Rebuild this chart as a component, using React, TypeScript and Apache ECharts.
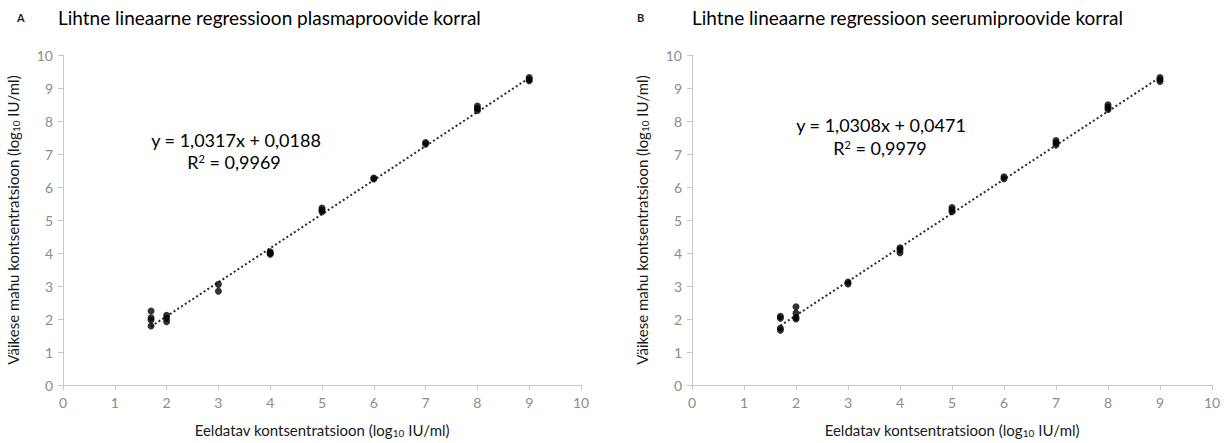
import React, { useEffect, useRef } from "react";
import * as echarts from "echarts";

// Expected concentration (log10 IU/ml) and measured values, plasma samples
const plasmaX = [1.7, 1.7, 1.7, 1.7, 2, 2, 2, 3, 3, 4, 4, 4, 5, 5, 5, 6, 6, 7, 7, 8, 8, 8, 9, 9, 9];
const plasmaY = [2.24, 2.04, 1.97, 1.79, 2.11, 2.02, 1.92, 3.05, 2.84, 4.04, 4.0, 3.96, 5.36, 5.3, 5.25, 6.27, 6.24, 7.35, 7.3, 8.45, 8.38, 8.32, 9.32, 9.26, 9.22];

// Expected concentration and measured values, serum samples
const serumX = [1.7, 1.7, 1.7, 1.7, 2, 2, 2, 2, 3, 3, 4, 4, 4, 5, 5, 5, 6, 6, 7, 7, 7, 8, 8, 8, 9, 9, 9];
const serumY = [2.08, 2.02, 1.72, 1.66, 2.37, 2.18, 2.05, 2.0, 3.12, 3.06, 4.16, 4.1, 4.01, 5.38, 5.31, 5.25, 6.31, 6.25, 7.41, 7.34, 7.27, 8.49, 8.42, 8.35, 9.32, 9.26, 9.2];

// Fitted regression lines
const plasmaFit = { slope: 1.0317, intercept: 0.0188, r2: "0,9969" };
const serumFit = { slope: 1.0308, intercept: 0.0471, r2: "0,9979" };
const fitRange = [1.7, 9];

const titles = [
  "Lihtne lineaarne regressioon plasmaproovide korral",
  "Lihtne lineaarne regressioon seerumiproovide korral",
];
const panelLetters = ["A", "B"];

const FONT = "Lato, 'Open Sans', sans-serif";

const fmt = (v: number) => v.toFixed(4).replace(".", ",");

const pairs = (xs: number[], ys: number[]) => xs.map((x, i) => [x, ys[i]]);
const fitLine = (f: { slope: number; intercept: number }) =>
  fitRange.map((x) => [x, f.slope * x + f.intercept]);

export default function App() {
  const ref = useRef<HTMLDivElement>(null);

  useEffect(() => {
    if (!ref.current) return;
    const chart = echarts.init(ref.current, null, { renderer: "svg" });

    const axisCommon = {
      min: 0,
      max: 10,
      interval: 1,
      axisLine: { show: true, lineStyle: { color: "#c8c8c8", width: 1 } },
      axisTick: { show: true, length: 5, lineStyle: { color: "#c8c8c8" } },
      splitLine: { show: false },
      axisLabel: { color: "#8c8c8c", fontSize: 14, fontFamily: FONT },
    };

    const nameRich = {
      n: { fontSize: 15, fontFamily: FONT, color: "#1a1a1a" },
      s: { fontSize: 10, fontFamily: FONT, color: "#1a1a1a", padding: [6, 0, 0, 0] },
    };
    const xName = "{n|Eeldatav kontsentratsioon (log}{s|10}{n| IU/ml)}";
    const yName = "{n|Väikese mahu kontsentratsioon (log}{s|10}{n| IU/ml)}";

    const grids = [
      { left: 63, top: 55, width: 518, height: 331 },
      { left: 692, top: 55, width: 520, height: 331 },
    ];

    const xAxes = grids.map((_, i) => ({
      ...axisCommon,
      type: "value",
      gridIndex: i,
      axisLabel: { ...axisCommon.axisLabel, margin: 10 },
      name: xName,
      nameLocation: "middle",
      nameGap: 37,
      nameTextStyle: { rich: nameRich },
    }));
    const yAxes = grids.map((_, i) => ({
      ...axisCommon,
      type: "value",
      gridIndex: i,
      axisLabel: { ...axisCommon.axisLabel, margin: 10 },
      name: yName,
      nameLocation: "middle",
      nameGap: 42,
      nameRotate: 90,
      nameTextStyle: { rich: nameRich },
    }));

    const scatter = (data: number[][], idx: number) => ({
      type: "scatter",
      xAxisIndex: idx,
      yAxisIndex: idx,
      data,
      symbol: "circle",
      symbolSize: 7,
      itemStyle: { color: "#000" },
      z: 3,
    });
    const trend = (data: number[][], idx: number) => ({
      type: "line",
      xAxisIndex: idx,
      yAxisIndex: idx,
      data,
      symbol: "none",
      lineStyle: { color: "#2b2b2b", width: 2, type: [2, 2.5] },
      z: 2,
    });

    const eqText = (f: { slope: number; intercept: number; r2: string }, cx: number, y1: number, cx2: number, y2: number) => [
      {
        type: "text",
        x: cx,
        y: y1,
        style: {
          text: `y = ${fmt(f.slope)}x + ${fmt(f.intercept)}`,
          font: `18px ${FONT}`,
          fill: "#000",
          align: "center",
          verticalAlign: "middle",
        },
      },
      {
        type: "text",
        x: cx2,
        y: y2,
        style: {
          text: `R{s|2} = ${f.r2}`,
          font: `18px ${FONT}`,
          fill: "#000",
          align: "center",
          verticalAlign: "middle",
          rich: { s: { fontSize: 11, fontFamily: FONT, padding: [0, 0, 8, 0], fill: "#000" } },
        },
      },
    ];

    const titleText = (letter: string, text: string, lx: number, tx: number) => [
      {
        type: "text",
        x: lx,
        y: 17,
        style: { text: letter, font: `bold 11px ${FONT}`, fill: "#222", verticalAlign: "middle" },
      },
      {
        type: "text",
        x: tx,
        y: 17,
        style: { text, font: `19px ${FONT}`, fill: "#000", verticalAlign: "middle" },
      },
    ];

    chart.setOption({
      animation: false,
      backgroundColor: "#fff",
      grid: grids,
      xAxis: xAxes,
      yAxis: yAxes,
      series: [
        scatter(pairs(plasmaX, plasmaY), 0),
        trend(fitLine(plasmaFit), 0),
        scatter(pairs(serumX, serumY), 1),
        trend(fitLine(serumFit), 1),
      ],
      graphic: [
        ...titleText(panelLetters[0], titles[0], 17, 58),
        ...titleText(panelLetters[1], titles[1], 637, 692),
        ...eqText(plasmaFit, 236, 140, 234, 162),
        ...eqText(serumFit, 881, 125, 880, 148),
      ],
    });

    return () => chart.dispose();
  }, []);

  return (
    <div
      ref={ref}
      style={{ position: "fixed", left: 0, top: 0, width: 1227, height: 443, background: "#fff" }}
    />
  );
}
